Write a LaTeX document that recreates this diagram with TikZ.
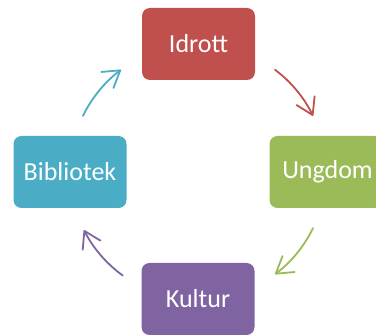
\documentclass[tikz,border=0pt]{standalone}
\usepackage{fontspec}
\setmainfont{Carlito}
\usetikzlibrary{arrows.meta}
\definecolor{cred}{HTML}{C0504D}
\definecolor{cgreen}{HTML}{9BBB59}
\definecolor{cblue}{HTML}{4BACC6}
\definecolor{cpurple}{HTML}{8064A2}
\tikzset{
  cbox/.style={rounded corners=8pt, minimum width=113pt, minimum height=72pt,
    inner sep=0pt, text=white, font=\fontsize{26}{31}\selectfont},
  carrow/.style={line width=1.8pt, line cap=round, line join=round,
    -{Straight Barb[length=16pt, width=20pt, line cap=round, line join=round]}}
}
\begin{document}
\begin{tikzpicture}[x=1pt,y=1pt]
\useasboundingbox (0,0) rectangle (376,335);
\clip (0,0) rectangle (376,335);
\coordinate (c) at (198,163);
\node[cbox, fill=cred] (idrott) at (198.5,291) {Idrott};
\node[cbox, fill=cgreen] (ungdom) at (326,163) {\hspace*{3pt}Ungdom};
\node[cbox, fill=cpurple] (kultur) at (198,36) {Kultur};
\node[cbox, fill=cblue] (bibliotek) at (70,163) {Bibliotek};
\draw[carrow, cred] ([shift={(53:128pt)}]c) arc[start angle=53, end angle=26, radius=128pt];
\draw[carrow, cgreen] ([shift={(-26:128pt)}]c) arc[start angle=-26, end angle=-53, radius=128pt];
\draw[carrow, cpurple] ([shift={(234:128pt)}]c) arc[start angle=234, end angle=207, radius=128pt];
\draw[carrow, cblue] ([shift={(154:128pt)}]c) arc[start angle=154, end angle=127, radius=128pt];
\end{tikzpicture}
\end{document}
